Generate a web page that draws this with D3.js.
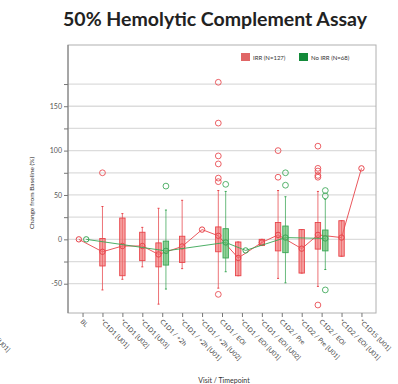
<!DOCTYPE html>
<html>
<head>
<meta charset="utf-8">
<script src="https://cdn.jsdelivr.net/npm/d3@7"></script>
<style>
  body { margin: 0; background: #fff; }
  svg { display: block; font-family: Lato, "Open Sans", sans-serif; }
</style>
</head>
<body>
<div id="chart"></div>
<script>
var categories = ["BL", "*C1D1 [U01]", "*C1D1 [U02]", "*C1D1 [U03]", "C1D1 / +2h",
    "*C1D1 / +2h [U01]", "*C1D1 / +2h [U02]", "C1D1 / EOI", "*C1D1 / EOI [U01]",
    "*C1D1 / EOI [U02]", "C1D2 / Pre", "*C1D2 / Pre [U01]", "C1D2 / EOI",
    "*C1D2 / EOI [U01]", "*C1D15 [U01]"];

// IRR (N=127)
var irrLow  = [null, -57, -45, -31, -73, -33, null, -55, -41, -7, -44, -38, -53, -19, null];
var irrQ1   = [null, -30, -41, -24, -31, -26, null, -14, -41, -7, -13, -38, -11, -19, null];
var irrMid  = [0, -14, -7.5, -7.5, -17, -8, 11, 4, -21, -3.5, 5, -10.5, 5, 2, 80];
var irrQ3   = [null, 1, 24, 8, -4, 3.5, null, 14, -3, 0, 19, 11, 19, 21, null];
var irrHigh = [null, 37, 29, 13.5, 35, 44, null, 55, -3, 0, 55, 11, 54, 21, null];
var irrOut  = [[], [75], [], [], [], [], [], [177, 131, 94, 85, 69, 65, -62], [], [],
    [100, 70], [], [105, 80, 77, 72, 70, -74], [], []];

// No IRR (N=68)
var noIrrLow  = [null, null, null, null, -56, null, null, -36.5, null, null, -49, null, -34, null, null];
var noIrrQ1   = [null, null, null, null, -29, null, null, -21, null, null, -15, null, -13, null, null];
var noIrrMid  = [0, null, null, null, -13, null, null, -3.5, -12.5, null, 2, null, 1, null, null];
var noIrrQ3   = [null, null, null, null, -2, null, null, 12, null, null, 15, null, 10.5, null, null];
var noIrrHigh = [null, null, null, null, 33, null, null, 54, null, null, 48, null, 45, null, null];
var noIrrOut  = [[], [], [], [], [60], [], [], [62], [], [], [75, 61], [], [55, 49, -57], [], []];

var yTicks = [-50, -25, 0, 25, 50, 75, 100, 125, 150, 175];

var box = { left: 68, right: 376, top: 45, bottom: 313 };

var svg = d3.select("#chart")
    .append("svg")
    .attr("width", 398)
    .attr("height", 384);

var x = d3.scalePoint().domain(categories).range([box.left, box.right]).padding(0.73);
var y = d3.scaleLinear().domain([-83, 219]).range([box.bottom, box.top]);

// title
svg.append("text")
    .attr("x", 215).attr("y", 26)
    .attr("text-anchor", "middle")
    .style("font-size", "19.5px").style("font-weight", "bold").style("fill", "#222")
    .text("50% Hemolytic Complement Assay");

// grid
svg.append("g").selectAll("line")
    .data(yTicks).enter().append("line")
    .attr("x1", box.left).attr("x2", box.right)
    .attr("y1", function (d) { return y(d) }).attr("y2", function (d) { return y(d) })
    .style("stroke", "#dcdcdc").style("stroke-width", 1.3);

// frame
svg.append("rect")
    .attr("x", box.left).attr("y", box.top)
    .attr("width", box.right - box.left).attr("height", box.bottom - box.top)
    .style("fill", "none").style("stroke", "#b0b0b0");

// axes
var yAxis = svg.append("g")
    .attr("transform", "translate(" + box.left + ",0)")
    .call(d3.axisLeft(y).tickValues(yTicks).tickSize(4).tickPadding(2)
        .tickFormat(function (d) { return d % 50 === 0 ? d : "" }));
yAxis.select(".domain").attr("d", "M0," + box.top + "V" + box.bottom).style("stroke", "#777");
yAxis.selectAll(".tick line").style("stroke", "#777");
yAxis.selectAll("text").style("font-size", "7px").style("fill", "#555").style("font-family", "Lato, sans-serif");

var xAxis = svg.append("g")
    .attr("transform", "translate(0," + box.bottom + ")")
    .call(d3.axisBottom(x).tickSize(4));
xAxis.select(".domain").remove();
xAxis.selectAll(".tick line").style("stroke", "#777");
xAxis.selectAll("text")
    .attr("x", 0).attr("y", 0).attr("dy", 0)
    .attr("transform", "translate(-3,9) rotate(45)")
    .attr("text-anchor", "start")
    .style("font-size", "6.5px").style("fill", "#444").style("font-family", "Lato, sans-serif");

// stray label fragment at the left edge
svg.append("text")
    .attr("transform", "translate(-4,341) rotate(45)")
    .style("font-size", "6.5px").style("fill", "#444")
    .text("[U01]");

svg.append("text")
    .attr("transform", "translate(34,193) rotate(-90)")
    .attr("text-anchor", "middle")
    .style("font-size", "6.5px").style("fill", "#333")
    .text("Change from Baseline (%)");

svg.append("text")
    .attr("x", 224).attr("y", 383)
    .attr("text-anchor", "middle")
    .style("font-size", "7px").style("fill", "#333")
    .text("Visit / Timepoint");

// legend
var legend = [
    { label: "IRR (N=127)", color: "#e06666", x: 241 },
    { label: "No IRR (N=68)", color: "#138a3a", x: 299 }
];
var lg = svg.append("g").selectAll("g").data(legend).enter().append("g");
lg.append("rect")
    .attr("x", function (d) { return d.x }).attr("y", 53)
    .attr("width", 9).attr("height", 8)
    .style("fill", function (d) { return d.color });
lg.append("text")
    .attr("x", function (d) { return d.x + 12 }).attr("y", 60)
    .style("font-size", "6px").style("fill", "#333")
    .text(function (d) { return d.label });

// series
function both(i) { return irrMid[i] !== null && noIrrMid[i] !== null }

var series = [
    { low: irrLow, q1: irrQ1, mid: irrMid, q3: irrQ3, high: irrHigh, out: irrOut,
      stroke: "#e8454b", fill: "rgba(239,110,110,0.65)", side: -1 },
    { low: noIrrLow, q1: noIrrQ1, mid: noIrrMid, q3: noIrrQ3, high: noIrrHigh, out: noIrrOut,
      stroke: "#3aa655", fill: "rgba(100,190,110,0.7)", side: 1 }
];

series.forEach(function (s) {
    var pts = categories.map(function (c, i) {
        return { i: i, c: c, mid: s.mid[i], low: s.low[i], q1: s.q1[i], q3: s.q3[i], high: s.high[i], out: s.out[i],
            cx: x(c) + (both(i) ? s.side * 3.7 : 0) };
    }).filter(function (d) { return d.mid !== null });

    var g = svg.append("g");

    g.append("path")
        .datum(pts)
        .attr("d", d3.line().x(function (d) { return d.cx }).y(function (d) { return y(d.mid) }))
        .style("fill", "none").style("stroke", s.stroke).style("stroke-width", 1).style("opacity", 0.9);

    var bx = pts.filter(function (d) { return d.q1 !== null });

    g.selectAll(".whisker").data(bx).enter().append("line")
        .attr("x1", function (d) { return d.cx }).attr("x2", function (d) { return d.cx })
        .attr("y1", function (d) { return y(d.high) }).attr("y2", function (d) { return y(d.low) })
        .style("stroke", s.stroke).style("stroke-width", 1).style("opacity", 0.75);

    g.selectAll(".cap").data(bx.concat(bx)).enter().append("line")
        .attr("x1", function (d) { return d.cx - 1 }).attr("x2", function (d) { return d.cx + 1 })
        .attr("y1", function (d, k) { return y(k < bx.length ? d.high : d.low) })
        .attr("y2", function (d, k) { return y(k < bx.length ? d.high : d.low) })
        .style("stroke", s.stroke).style("stroke-width", 1);

    g.selectAll(".box").data(bx).enter().append("rect")
        .attr("x", function (d) { return d.cx - 2.7 }).attr("width", 5.4)
        .attr("y", function (d) { return y(d.q3) })
        .attr("height", function (d) { return y(d.q1) - y(d.q3) })
        .style("fill", s.fill).style("stroke", s.stroke).style("stroke-width", 0.9);

    g.selectAll(".mid").data(pts).enter().append("circle")
        .attr("cx", function (d) { return d.cx }).attr("cy", function (d) { return y(d.mid) })
        .attr("r", 2.7)
        .style("fill", "none").style("stroke", s.stroke).style("stroke-width", 1);

    var outs = [];
    pts.forEach(function (d) { d.out.forEach(function (v) { outs.push({ cx: d.cx, v: v }) }) });
    g.selectAll(".out").data(outs).enter().append("circle")
        .attr("cx", function (d) { return d.cx }).attr("cy", function (d) { return y(d.v) })
        .attr("r", 2.9)
        .style("fill", "none").style("stroke", s.stroke).style("stroke-width", 1).style("opacity", 0.85);
});
</script>
</body>
</html>
